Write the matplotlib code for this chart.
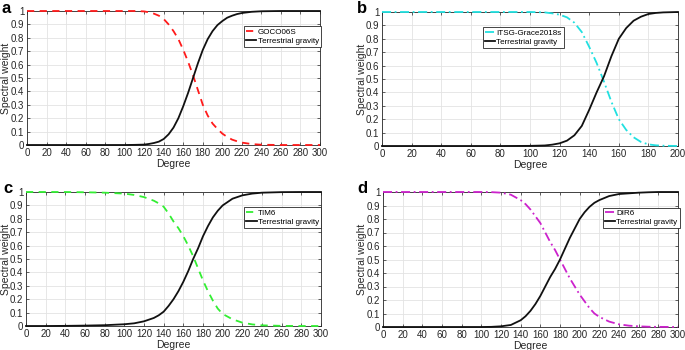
import matplotlib
matplotlib.use("Agg")
import matplotlib.pyplot as plt

plt.rcParams['font.family'] = ['Liberation Sans', 'DejaVu Sans']

# ---- data ----
deg_a = [0, 20, 40, 60, 80, 100, 110, 120, 125, 130, 135, 140, 145, 150, 155, 160, 165, 170, 175, 180,
         185, 190, 195, 200, 205, 210, 215, 220, 230, 240, 260, 280, 300]
goco06s = [1, 1, 1, 1, 1, 1, 1, 0.997, 0.99, 0.98, 0.965, 0.94, 0.9, 0.85, 0.79, 0.71, 0.62, 0.52, 0.41, 0.3,
           0.22, 0.16, 0.12, 0.085, 0.06, 0.04, 0.028, 0.018, 0.007, 0.002, 0, 0, 0]
terr_a = [0, 0, 0, 0, 0, 0, 0.001, 0.003, 0.008, 0.015, 0.025, 0.045, 0.08, 0.13, 0.2, 0.29, 0.39, 0.5, 0.61, 0.71,
          0.79, 0.85, 0.895, 0.925, 0.95, 0.965, 0.977, 0.985, 0.994, 0.998, 1, 1, 1]

deg_b = [0, 20, 40, 60, 80, 100, 110, 115, 120, 125, 130, 135, 140, 145, 150, 155, 160, 165, 170, 175, 180,
         185, 190, 200]
itsg = [1, 1, 1, 1, 1, 1, 0.997, 0.99, 0.98, 0.96, 0.92, 0.85, 0.74, 0.62, 0.48, 0.33, 0.2, 0.12, 0.065, 0.03,
        0.012, 0.005, 0.002, 0]
terr_b = [0, 0, 0, 0, 0, 0.001, 0.004, 0.01, 0.02, 0.04, 0.08, 0.15, 0.27, 0.4, 0.52, 0.67, 0.8, 0.88, 0.935, 0.965,
          0.985, 0.993, 0.997, 1]

deg_c = [0, 20, 40, 60, 80, 100, 110, 120, 130, 135, 140, 145, 150, 155, 160, 165, 170, 175, 180, 185, 190,
         195, 200, 210, 220, 230, 240, 260, 280, 300]
tim6 = [1, 1, 1, 0.998, 0.995, 0.988, 0.978, 0.962, 0.935, 0.915, 0.89, 0.84, 0.78, 0.73, 0.67, 0.6, 0.52, 0.43, 0.34,
        0.26, 0.19, 0.13, 0.09, 0.05, 0.025, 0.012, 0.005, 0.001, 0, 0]
terr_c = [0, 0, 0.001, 0.003, 0.006, 0.013, 0.02, 0.035, 0.06, 0.08, 0.107, 0.15, 0.2, 0.26, 0.33, 0.41, 0.5, 0.58, 0.67,
          0.745, 0.81, 0.86, 0.9, 0.95, 0.975, 0.988, 0.995, 0.999, 1, 1]

deg_d = [0, 20, 40, 60, 80, 100, 110, 120, 130, 140, 145, 150, 155, 160, 165, 170, 175, 180, 185, 190,
         195, 200, 205, 210, 215, 220, 230, 240, 250, 260, 270, 280, 300]
dir6 = [1, 1, 1, 1, 1, 1, 0.999, 0.995, 0.98, 0.94, 0.91, 0.87, 0.82, 0.77, 0.7, 0.63, 0.57, 0.5, 0.43, 0.36,
        0.3, 0.24, 0.19, 0.14, 0.1, 0.075, 0.04, 0.02, 0.01, 0.005, 0.002, 0.001, 0]
terr_d = [0, 0, 0, 0, 0, 0, 0.001, 0.005, 0.015, 0.05, 0.08, 0.12, 0.17, 0.23, 0.3, 0.37, 0.43, 0.5, 0.58, 0.66,
          0.73, 0.8, 0.85, 0.89, 0.92, 0.94, 0.97, 0.985, 0.99, 0.995, 0.998, 1, 1]

panels = [
    ('a', deg_a, goco06s, terr_a, 'GOCO06S', '#ff1a1a', (0, (4, 3)), 300),
    ('b', deg_b, itsg, terr_b, 'ITSG-Grace2018s', '#22e0e0', (0, (5, 2, 1, 2)), 200),
    ('c', deg_c, tim6, terr_c, 'TIM6', '#33ee33', (0, (4, 3)), 300),
    ('d', deg_d, dir6, terr_d, 'DIR6', '#cc22cc', (0, (5, 2, 1, 2)), 300),
]

# axes rectangles in pixels (left, top, right, bottom)
W, H = 685, 350
rects = [(27, 11, 320, 145), (382, 12, 678, 146), (26, 192, 321, 326), (383, 192, 678, 327)]
legend_anchor = [(0.74, 0.885), (0.34, 0.885), (0.74, 0.885), (0.745, 0.885)]
ylabel_x = [6, 362, 6, 362]
letter_pos = [(2, 1), (357, 1), (3, 181), (357, 181)]

fig = plt.figure(figsize=(W / 100, H / 100), dpi=100)
for i, (lab, deg, sat, terr, name, col, ls, xmax) in enumerate(panels):
    l, t, r, b = rects[i]
    ax = fig.add_axes([l / W, 1 - b / H, (r - l) / W, (b - t) / H])
    ax.plot(deg, sat, color=col, linestyle=ls, linewidth=1.3, label=name, clip_on=False, zorder=3)
    ax.plot(deg, terr, color='#111111', linewidth=1.3, label='Terrestrial gravity', clip_on=False, zorder=3)
    ax.set_xlim(0, xmax)
    ax.set_ylim(0, 1)
    ax.set_xticks(list(range(0, xmax + 1, 20)))
    ax.set_yticks([k / 10 for k in range(11)])
    ax.set_yticklabels(['0'] + ['0.%d' % k for k in range(1, 10)] + ['1'])
    ax.grid(True, color='#e3e3e3', linewidth=0.6)
    ax.set_axisbelow(True)
    ax.tick_params(direction='in', length=2.5, width=0.5, labelsize=7, pad=2,
                   top=True, right=True, colors='#262626')
    for s in ax.spines.values():
        s.set_linewidth(0.6)
        s.set_color('#262626')
    ax.set_xlabel('Degree', fontsize=7.5, labelpad=1, color='#262626')
    ax.set_ylabel('Spectral weight', fontsize=7.5, color='#262626', va='center')
    ax.yaxis.set_label_coords((ylabel_x[i] - l) / (r - l), 0.5)
    leg = ax.legend(loc='upper left', bbox_to_anchor=legend_anchor[i], fontsize=5.8,
                    handlelength=1.3, handletextpad=0.15, borderpad=0.25, labelspacing=0.15,
                    fancybox=False, framealpha=1, borderaxespad=0)
    leg.set_zorder(5)
    leg.get_frame().set_edgecolor('#262626')
    leg.get_frame().set_linewidth(0.6)
    lx, ly = letter_pos[i]
    fig.text(lx / W, 1 - ly / H, lab, fontsize=12, fontweight='bold', va='top', ha='left')

fig.savefig('out.png', dpi=100)
